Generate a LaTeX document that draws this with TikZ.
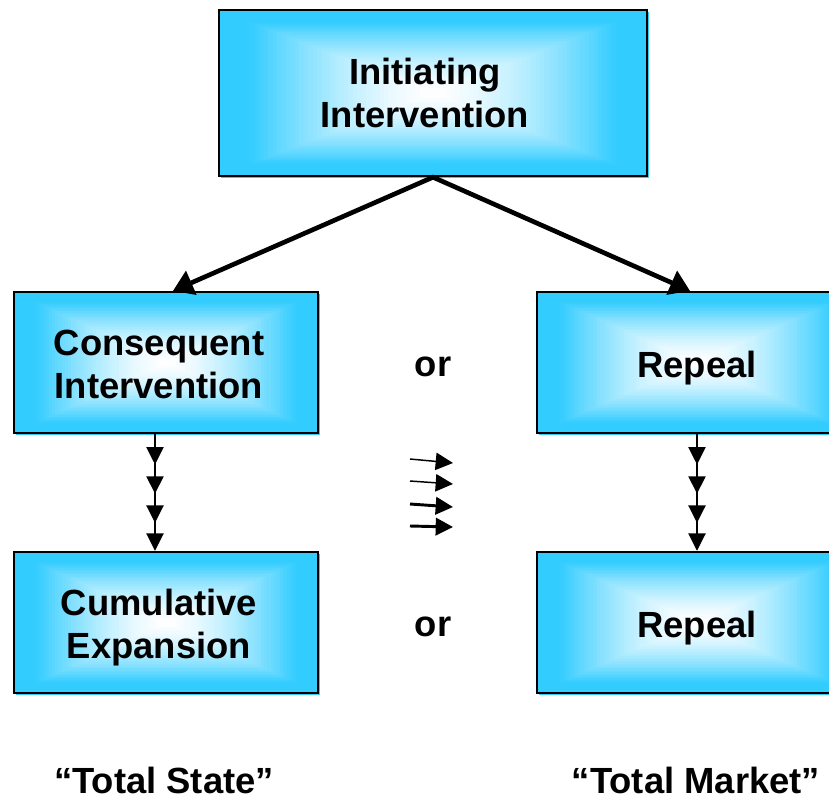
\documentclass[tikz,border=0pt]{standalone}
\usepackage{fontspec}
\setmainfont{Liberation Sans}
\usetikzlibrary{arrows.meta,calc,decorations.markings,shadows}
\definecolor{boxcyan}{HTML}{33CCFF}
\tikzset{
  gradbox/.style={draw=black, line width=1.8pt, rectangle, inner sep=0pt,
    drop shadow={shadow xshift=1.5pt, shadow yshift=-1.5pt, fill=boxcyan, opacity=1},
    path picture={
      \foreach \gi in {0,...,48}{
        \pgfmathsetmacro\gfrac{1-\gi/48}
        \pgfmathtruncatemacro\gpct{min(100,125*\gfrac^1.5)}
        \fill[boxcyan!\gpct!white]
          ($(path picture bounding box.center)!\gfrac!(path picture bounding box.south west)$)
          rectangle
          ($(path picture bounding box.center)!\gfrac!(path picture bounding box.north east)$);
      }
    }},
  boxtext/.style={font=\bfseries\fontsize{27.3}{32.3}\selectfont, align=center, inner sep=0pt, text=black},
  plaintext/.style={font=\bfseries\fontsize{27.3}{32.3}\selectfont, inner sep=0pt},
  bigarrow/.style={line width=3.5pt, line join=miter,
    {Triangle[length=15pt,width=19pt]}-{Triangle[length=15pt,width=19pt]}},
  smalltri/.tip={Triangle[length=13pt,width=12.75pt]},
  chain/.style={line width=1.5pt, -{smalltri},
    decoration={markings,
      mark=at position 0.26 with {\arrow{smalltri}},
      mark=at position 0.51 with {\arrow{smalltri}},
      mark=at position 0.76 with {\arrow{smalltri}}},
    postaction={decorate}},
  thinarrow/.style={line width=1.1pt, -{Triangle[length=13pt,width=13pt]}},
  thickarrow/.style={line width=2.2pt, -{Triangle[length=13pt,width=13pt]}},
}
\begin{document}
\begin{tikzpicture}[x=0.75pt, y=-0.75pt]
  \useasboundingbox (0,0) rectangle (829,801);
  \clip (0,0) rectangle (829,801);

  % boxes
  \node[gradbox, minimum width=321pt, minimum height=124.5pt,
        label={[boxtext, xshift=-6pt]center:{Initiating\\Intervention}}] (top) at (433,93) {};
  \node[gradbox, minimum width=228pt, minimum height=105.75pt,
        label={[boxtext, xshift=-5.25pt, yshift=-1.5pt]center:{Consequent\\Intervention}}] (cons) at (166,362.5) {};
  \node[gradbox, minimum width=228pt, minimum height=105.75pt,
        label={[boxtext, xshift=-5.25pt, yshift=-3.75pt]center:{Cumulative\\Expansion}}] (cum) at (166,622.5) {};
  \node[gradbox, minimum width=240pt, minimum height=105.75pt,
        label={[boxtext, yshift=-4.5pt]center:{Repeal}}] (rep1) at (697,362.5) {};
  \node[gradbox, minimum width=240pt, minimum height=105.75pt,
        label={[boxtext, yshift=-4.5pt]center:{Repeal}}] (rep2) at (697,622.5) {};

  % plain labels
  \node[plaintext] (or1) at (433,367) {or};
  \node[plaintext] (or2) at (433,627) {or};
  \node[plaintext] (state) at (164,780) {“Total State”};
  \node[plaintext] (market) at (696,780) {“Total Market”};

  % branching from the initiating intervention
  \draw[bigarrow] ([xshift=5.25pt]cons.north) -- (top.south) -- ([xshift=-5.25pt]rep1.north);

  % chains of successive steps
  \draw[chain] ([xshift=-8.25pt]cons.south) -- ([xshift=-8.25pt]cum.north);
  \draw[chain] (rep1.south) -- (rep2.north);

  % small arrows between the columns
  \coordinate (a1s) at (410,459); \coordinate (a1e) at (453,463);
  \coordinate (a2s) at (410,481); \coordinate (a2e) at (453,484);
  \coordinate (a3s) at (410,504); \coordinate (a3e) at (453,507);
  \coordinate (a4s) at (410,526); \coordinate (a4e) at (453,527);
  \draw[thinarrow] (a1s) -- (a1e);
  \draw[thinarrow] (a2s) -- (a2e);
  \draw[thickarrow] (a3s) -- (a3e);
  \draw[thickarrow] (a4s) -- (a4e);
\end{tikzpicture}
\end{document}
